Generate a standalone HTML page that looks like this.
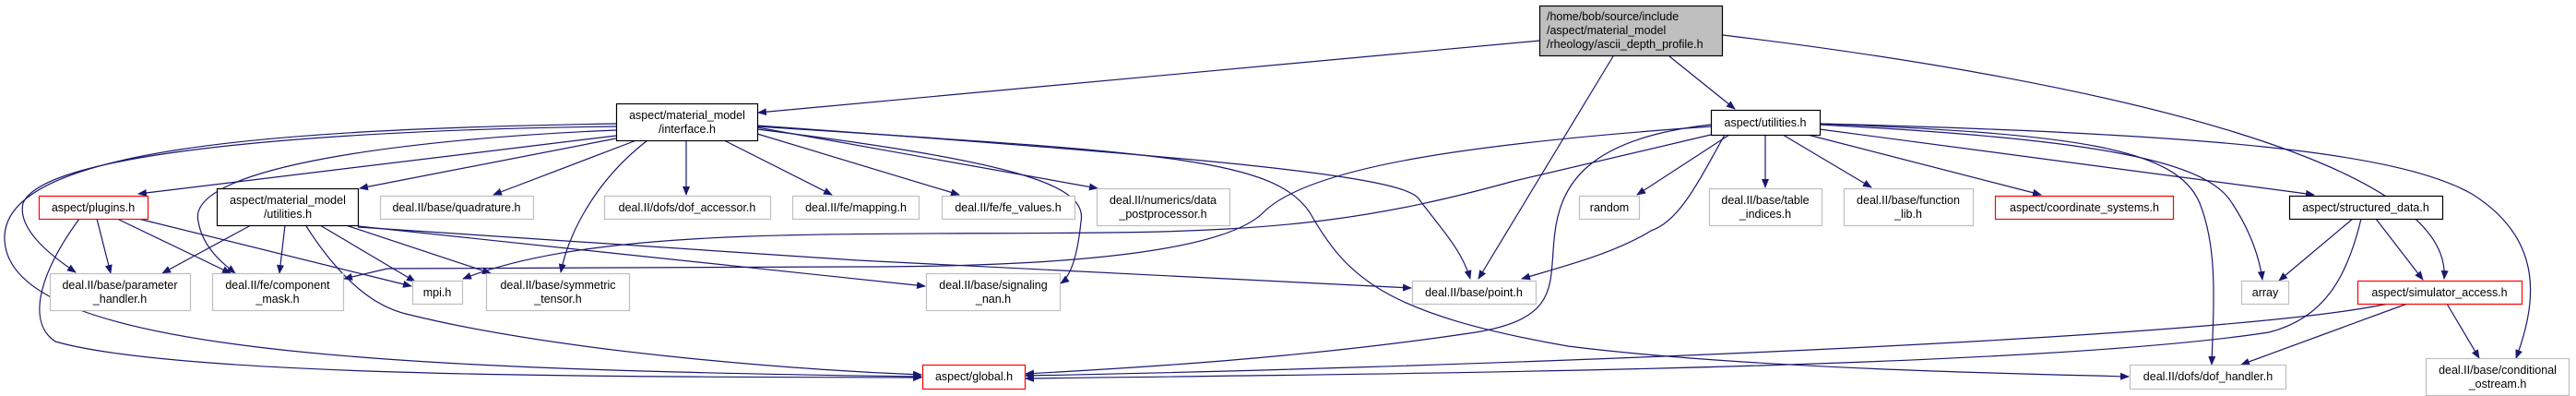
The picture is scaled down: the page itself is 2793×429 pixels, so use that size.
<!DOCTYPE html>
<html><head><meta charset="utf-8"><style>
html,body{margin:0;padding:0;background:#fff}
svg{display:block}
text{font-family:"Liberation Sans",sans-serif;font-size:12.5px;fill:#000}
</style></head><body>
<svg width="2793" height="429" viewBox="0 0 2793 429" xmlns="http://www.w3.org/2000/svg">
<defs>
<marker id="a" markerWidth="10" markerHeight="10" refX="9" refY="5" orient="auto" markerUnits="userSpaceOnUse">
<path d="M0,1 L10,5 L0,9 Z" fill="#191970"/>
</marker>
</defs>
<g fill="none" stroke="#191970" stroke-width="1.2" marker-end="url(#a)">
<path d="M1670,44 L822,122"/>
<path d="M1749,61 L1603,302"/>
<path d="M1810,61 L1881,118"/>
<path d="M1868,38 C2300,90 2660,180 2650,302"/>
<path d="M668,147 L150,210"/>
<path d="M668,150 L390,204"/>
<path d="M690,152 L535,211"/>
<path d="M744,152 L744,211"/>
<path d="M785,152 L902,211"/>
<path d="M821,145 L1040,211"/>
<path d="M821,138 L1190,204"/>
<path d="M668,137 C400,140 50,160 25,220 C18,250 60,280 82,295"/>
<path d="M668,134 C300,140 0,160 5,260 C10,380 400,400 999,408"/>
<path d="M668,141 C450,150 200,180 215,240 C220,270 245,288 255,296"/>
<path d="M702,152 C640,200 615,260 608,295"/>
<path d="M821,140 C1100,175 1180,200 1172,240 C1168,280 1160,300 1150,307"/>
<path d="M821,136 C1300,170 1520,190 1538,215 C1560,245 1585,270 1594,302"/>
<path d="M821,137 C1250,165 1380,170 1420,230 C1460,300 1500,340 1700,375 C1900,400 2200,405 2308,408"/>
<path d="M272,244 L176,296"/>
<path d="M309,244 L303,296"/>
<path d="M347,244 L450,305"/>
<path d="M375,244 L532,296"/>
<path d="M332,245 C380,320 420,335 440,340 C600,380 850,400 999,406"/>
<path d="M388,245 L1003,310"/>
<path d="M388,246 L930,282 L1530,312"/>
<path d="M105,237 L120,296"/>
<path d="M127,237 L250,296"/>
<path d="M150,237 L446,310"/>
<path d="M86,237 C40,300 30,350 60,370 C200,410 700,408 999,409"/>
<path d="M1855,146 L1642,196 C1500,235 1400,250 1200,252 C900,255 650,245 502,302"/>
<path d="M1855,137 C1600,155 1420,180 1370,230 C1320,280 1100,289 930,289 L420,291 L373,302"/>
<path d="M1855,135 C1720,150 1690,200 1685,260 C1680,310 1690,345 1600,360 C1400,390 1200,400 1112,405"/>
<path d="M1870,146 C1840,200 1820,240 1790,250 C1750,275 1690,290 1650,302"/>
<path d="M1875,146 L1775,211"/>
<path d="M1914,146 L1914,203"/>
<path d="M1933,146 L2029,203"/>
<path d="M1960,146 L2213,211"/>
<path d="M1973,140 L2509,211"/>
<path d="M1973,135 C2250,150 2390,170 2420,220 C2440,250 2450,280 2453,303"/>
<path d="M1973,134 C2250,145 2360,160 2385,220 C2405,270 2400,330 2398,395"/>
<path d="M1973,134 C2400,145 2600,165 2680,210 C2760,260 2750,330 2728,388"/>
<path d="M2551,237 L2471,304"/>
<path d="M2576,237 L2627,303"/>
<path d="M2560,237 C2545,300 2520,345 2460,360 C2200,400 1500,405 1112,410"/>
<path d="M2589,329 C2400,370 1500,400 1112,407"/>
<path d="M2610,329 L2430,395"/>
<path d="M2653,329 L2688,388"/>
</g>
<g stroke-width="1.2">
<rect x="1669.5" y="6.5" width="198" height="54" fill="#bfbfbf" stroke="#000"/>
<rect x="668.5" y="112.5" width="153" height="40" fill="#fff" stroke="#000"/>
<rect x="1855.5" y="119.5" width="118" height="27" fill="#fff" stroke="#000"/>
<rect x="42.5" y="212.5" width="118" height="25" fill="#fff" stroke="#f00"/>
<rect x="235.5" y="204.5" width="153" height="40" fill="#fff" stroke="#000"/>
<rect x="412.5" y="212.5" width="166" height="25" fill="#fff" stroke="#bfbfbf"/>
<rect x="655.5" y="212.5" width="180" height="25" fill="#fff" stroke="#bfbfbf"/>
<rect x="859.5" y="212.5" width="137" height="25" fill="#fff" stroke="#bfbfbf"/>
<rect x="1021.5" y="212.5" width="144" height="25" fill="#fff" stroke="#bfbfbf"/>
<rect x="1189.5" y="204.5" width="144" height="40" fill="#fff" stroke="#bfbfbf"/>
<rect x="1712.5" y="212.5" width="65" height="25" fill="#fff" stroke="#bfbfbf"/>
<rect x="1853.5" y="204.5" width="122" height="40" fill="#fff" stroke="#bfbfbf"/>
<rect x="1999.5" y="204.5" width="140" height="40" fill="#fff" stroke="#bfbfbf"/>
<rect x="2163.5" y="212.5" width="193" height="25" fill="#fff" stroke="#f00"/>
<rect x="2482.5" y="212.5" width="166" height="25" fill="#fff" stroke="#000"/>
<rect x="54.5" y="296.5" width="152" height="40" fill="#fff" stroke="#bfbfbf"/>
<rect x="230.5" y="296.5" width="142" height="40" fill="#fff" stroke="#bfbfbf"/>
<rect x="447.5" y="304.5" width="54" height="25" fill="#fff" stroke="#bfbfbf"/>
<rect x="527.5" y="296.5" width="155" height="40" fill="#fff" stroke="#bfbfbf"/>
<rect x="1004.5" y="296.5" width="145" height="40" fill="#fff" stroke="#bfbfbf"/>
<rect x="1531.5" y="304.5" width="134" height="25" fill="#fff" stroke="#bfbfbf"/>
<rect x="2430.5" y="304.5" width="51" height="25" fill="#fff" stroke="#bfbfbf"/>
<rect x="2556.5" y="304.5" width="178" height="25" fill="#fff" stroke="#f00"/>
<rect x="1000.5" y="395.5" width="111" height="26" fill="#fff" stroke="#f00"/>
<rect x="2309.5" y="395.5" width="169" height="26" fill="#fff" stroke="#bfbfbf"/>
<rect x="2630.5" y="388.5" width="155" height="40" fill="#fff" stroke="#bfbfbf"/>
</g>
<g text-anchor="middle">
<text x="1769" y="22" text-anchor="start" transform="translate(-92,0)">/home/bob/source/include</text>
<text x="1677" y="37" text-anchor="start">/aspect/material_model</text>
<text x="1677" y="52" text-anchor="start">/rheology/ascii_depth_profile.h</text>
<text x="745" y="129">aspect/material_model</text>
<text x="745" y="144">/interface.h</text>
<text x="1914" y="137">aspect/utilities.h</text>
<text x="101" y="229">aspect/plugins.h</text>
<text x="312" y="221">aspect/material_model</text>
<text x="312" y="236">/utilities.h</text>
<text x="495" y="229">deal.II/base/quadrature.h</text>
<text x="745" y="229">deal.II/dofs/dof_accessor.h</text>
<text x="928" y="229">deal.II/fe/mapping.h</text>
<text x="1093" y="229">deal.II/fe/fe_values.h</text>
<text x="1261" y="221">deal.II/numerics/data</text>
<text x="1261" y="236">_postprocessor.h</text>
<text x="1745" y="229">random</text>
<text x="1914" y="221">deal.II/base/table</text>
<text x="1914" y="236">_indices.h</text>
<text x="2069" y="221">deal.II/base/function</text>
<text x="2069" y="236">_lib.h</text>
<text x="2260" y="229">aspect/coordinate_systems.h</text>
<text x="2565" y="229">aspect/structured_data.h</text>
<text x="130" y="313">deal.II/base/parameter</text>
<text x="130" y="328">_handler.h</text>
<text x="301" y="313">deal.II/fe/component</text>
<text x="301" y="328">_mask.h</text>
<text x="474" y="321">mpi.h</text>
<text x="605" y="313">deal.II/base/symmetric</text>
<text x="605" y="328">_tensor.h</text>
<text x="1077" y="313">deal.II/base/signaling</text>
<text x="1077" y="328">_nan.h</text>
<text x="1598" y="321">deal.II/base/point.h</text>
<text x="2456" y="321">array</text>
<text x="2645" y="321">aspect/simulator_access.h</text>
<text x="1056" y="412">aspect/global.h</text>
<text x="2394" y="412">deal.II/dofs/dof_handler.h</text>
<text x="2708" y="405">deal.II/base/conditional</text>
<text x="2708" y="420">_ostream.h</text>
</g>
</svg>
</body></html>
